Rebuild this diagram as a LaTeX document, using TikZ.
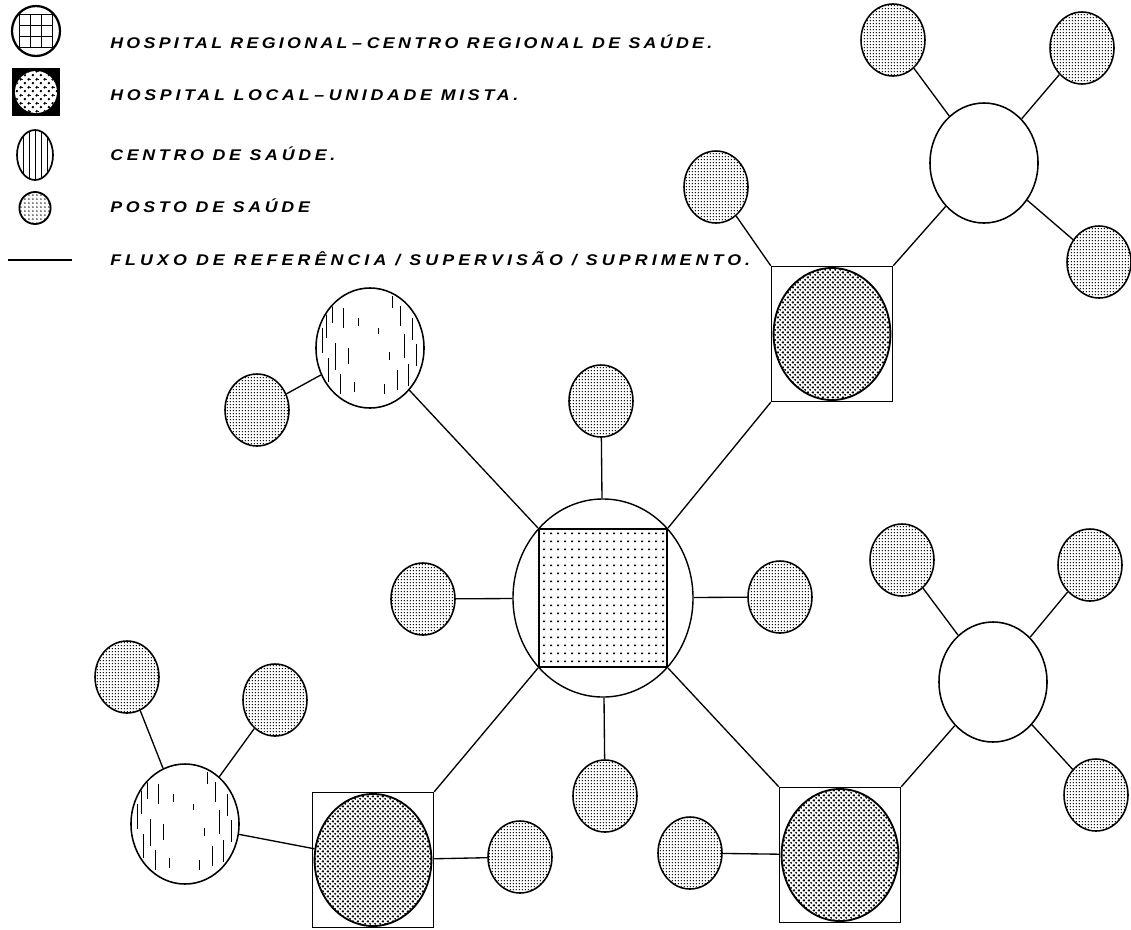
\documentclass[tikz,border=0pt]{standalone}
\usepackage{fontspec}
\setmainfont{Liberation Sans}
\newfontfamily\legfont[LetterSpace=24, FakeStretch=1.15]{Liberation Sans}
\usetikzlibrary{shapes.geometric,patterns.meta}

\tikzdeclarepattern{name=postodots, type=colored,
  bottom left={(0pt,0pt)}, top right={(2.3pt,2.3pt)}, tile size={(2.3pt,2.3pt)},
  code={\fill[black] (1.15pt,1.15pt) circle [radius=0.6pt];}}
\tikzdeclarepattern{name=hldots, type=colored,
  bottom left={(0pt,0pt)}, top right={(3.8pt,3.8pt)}, tile size={(3.8pt,3.8pt)},
  code={\fill[black] (0.95pt,0.95pt) circle [radius=0.8pt];
        \fill[black] (2.85pt,2.85pt) circle [radius=0.8pt];}}
\tikzdeclarepattern{name=hrdots, type=colored,
  bottom left={(0pt,0pt)}, top right={(5pt,5.7pt)}, tile size={(5pt,5.7pt)},
  code={\fill[black] (1.8pt,2.3pt) rectangle (3.4pt,3.4pt);}}
\tikzdeclarepattern{name=legdots, type=colored,
  bottom left={(0pt,0pt)}, top right={(5.5pt,5.5pt)}, tile size={(5.5pt,5.5pt)},
  code={\fill[black] (1.375pt,1.375pt) circle [radius=1pt];
        \fill[black] (4.125pt,4.125pt) circle [radius=1pt];}}
\tikzdeclarepattern{name=legpdots, type=colored,
  bottom left={(0pt,0pt)}, top right={(2.8pt,2.8pt)}, tile size={(2.8pt,2.8pt)},
  code={\fill[black] (1.4pt,1.4pt) circle [radius=0.55pt];}}

\tikzset{
  conn/.style={line width=0.95pt},
  posto/.style={ellipse, draw, line width=1.1pt, inner sep=0,
    minimum width=1.6cm, minimum height=1.8cm, pattern=postodots},
  centro/.style={ellipse, draw, line width=1.1pt, inner sep=0,
    minimum width=2.7cm, minimum height=3cm, fill=white},
  hlsq/.style={rectangle, draw, line width=0.9pt, inner sep=0,
    minimum width=3.03cm, minimum height=3.38cm},
  hlel/.style={ellipse, draw, line width=1.3pt, inner sep=0,
    minimum width=2.92cm, minimum height=3.3cm, pattern=hldots},
  hrel/.style={ellipse, draw, line width=1pt, inner sep=0,
    minimum width=4.5cm, minimum height=4.95cm},
  hrsq/.style={rectangle, draw, line width=1.4pt, inner sep=0,
    minimum width=3.2cm, minimum height=3.45cm, pattern=hrdots},
  legtext/.style={anchor=base west, inner sep=0,
    font={\fontsize{11pt}{13pt}\selectfont\legfont\bfseries\itshape}}
}

\newcommand{\centrostrokes}[1]{%
  \begin{scope}[shift={(#1.center)}]
    \clip (0,0) ellipse [x radius=1.32cm, y radius=1.47cm];
    \foreach \dx/\ya/\yb in {-48/-20/5, -44/-35/-10, -42/10/34, -38/-45/-25,
        -35/-5/22, -30/26/46, -27/-40/-20, -22/0/16, -16/34/44, -12/-30/-22,
        30/-42/-22, 34/-14/10, 38/16/38, 42/-30/-8, 27/22/42, 22/-52/-40,
        46/-4/18, 14/36/46, 8/-20/-14, 19/4/12}
      \draw[line width=0.55pt] (\dx,\ya) -- (\dx,\yb);
  \end{scope}}

\begin{document}
\begin{tikzpicture}[x=0.025cm, y=-0.025cm]
\useasboundingbox (0,0) rectangle (1131,929);

% ---------- legend ----------
\node[ellipse, draw, line width=1.6pt, minimum width=1.2cm, minimum height=1.25cm, inner sep=0] (lhr) at (36,31) {};
\node[rectangle, draw, line width=1.2pt, minimum size=0.83cm, inner sep=0] (lhrs) at (36,31) {};
\foreach \t in {1,2} {
  \draw[line width=0.7pt] (19.4+\t*11.07,14.4) -- (19.4+\t*11.07,47.6);
  \draw[line width=0.7pt] (19.4,14.4+\t*11.07) -- (52.6,14.4+\t*11.07);
}
\node[rectangle, draw, fill=black, line width=1.5pt, minimum size=1.15cm, inner sep=0] (lhl) at (36,92) {};
\node[circle, pattern=legdots, preaction={fill=white}, minimum size=1.05cm, inner sep=0] (lhle) at (36,92) {};
\node[ellipse, draw, line width=1.2pt, minimum width=0.9cm, minimum height=1.25cm, inner sep=0] (lcs) at (35,155) {};
\begin{scope}
  \clip (35,155) ellipse [x radius=0.45cm, y radius=0.625cm];
  \foreach \dx in {-12,-6,0,6,12}
    \draw[line width=0.7pt] (35+\dx,120) -- (35+\dx,190);
\end{scope}
\node[ellipse, draw, line width=1.3pt, minimum width=0.78cm, minimum height=0.8cm, inner sep=0, pattern=legpdots] (lps) at (35,208) {};
\coordinate (la) at (8,260);
\coordinate (lb) at (72,260);
\draw[line width=1.4pt] (la) -- (lb);

\node[legtext] (t1) at (110,48) {\addfontfeature{LetterSpace=21.5}HOSPITAL REGIONAL\hspace{0.3em}–\hspace{0.3em}CENTRO REGIONAL DE SAÚDE.};
\node[legtext] (t2) at (110,100) {HOSPITAL LOCAL\hspace{0.3em}–\hspace{0.3em}UNIDADE MISTA.};
\node[legtext] (t3) at (110,160) {CENTRO DE SAÚDE.};
\node[legtext] (t4) at (110,212) {POSTO DE SAÚDE};
\node[legtext] (t5) at (110,265) {\addfontfeature{LetterSpace=26.5}FLUXO DE REFERÊNCIA / SUPERVISÃO / SUPRIMENTO.};

% ---------- central regional hospital ----------
\node[hrel] (cc) at (603,598) {};
\node[hrsq] (cs) at (603,598) {};
\node[posto] (p1) at (601,401) {};
\node[posto] (p2) at (423,599) {};
\node[posto] (p3) at (780,597) {};
\node[posto] (p4) at (605,796) {};

% upper left centro
\node[centro] (cul) at (370,348) {};
\centrostrokes{cul}
\node[posto] (p5) at (257,410) {};

% upper right cluster
\node[hlsq] (htrs) at (832,334) {};
\node[hlel] (htre) at (832,334) {};
\node[posto] (p6) at (716,187) {};
\node[centro] (ctr) at (984,163) {};
\node[posto] (p7) at (893,40) {};
\node[posto] (p8) at (1082,48) {};
\node[posto] (p9) at (1099,262) {};

% lower left cluster
\node[hlsq] (hbls) at (373,860) {};
\node[hlel] (hble) at (373,860) {};
\node[centro] (cbl) at (185,824) {};
\centrostrokes{cbl}
\node[posto] (p10) at (127,677) {};
\node[posto] (p11) at (275,700) {};
\node[posto] (p12) at (520,857) {};

% lower right cluster
\node[hlsq] (hbrs) at (840,855) {};
\node[hlel] (hbre) at (840,855) {};
\node[posto] (p13) at (690,853) {};
\node[centro] (cbr) at (993,682) {};
\node[posto] (p14) at (1096,795) {};
\node[posto] (p15) at (902,560) {};
\node[posto] (p16) at (1090,565) {};

% ---------- connectors ----------
\draw[conn] (cs.north west) -- (cul);
\draw[conn] (cs.north east) -- (htrs.south west);
\draw[conn] (cs.south west) -- (hbls.north east);
\draw[conn] (cs.south east) -- (hbrs.north west);
\draw[conn] (p1) -- (cc);
\draw[conn] (p2) -- (cc);
\draw[conn] (p3) -- (cc);
\draw[conn] (p4) -- (cc);
\draw[conn] (p5) -- (cul);
\draw[conn] (p6) -- (htrs.north west);
\draw[conn] (htrs.north east) -- (ctr);
\draw[conn] (p7) -- (ctr);
\draw[conn] (p8) -- (ctr);
\draw[conn] (p9) -- (ctr);
\draw[conn] (cbl) -- (hble);
\draw[conn] (p10) -- (cbl);
\draw[conn] (p11) -- (cbl);
\draw[conn] (hbls) -- (p12);
\draw[conn] (p13) -- (hbrs);
\draw[conn] (hbrs.north east) -- (cbr);
\draw[conn] (p14) -- (cbr);
\draw[conn] (p15) -- (cbr);
\draw[conn] (p16) -- (cbr);
\end{tikzpicture}
\end{document}
